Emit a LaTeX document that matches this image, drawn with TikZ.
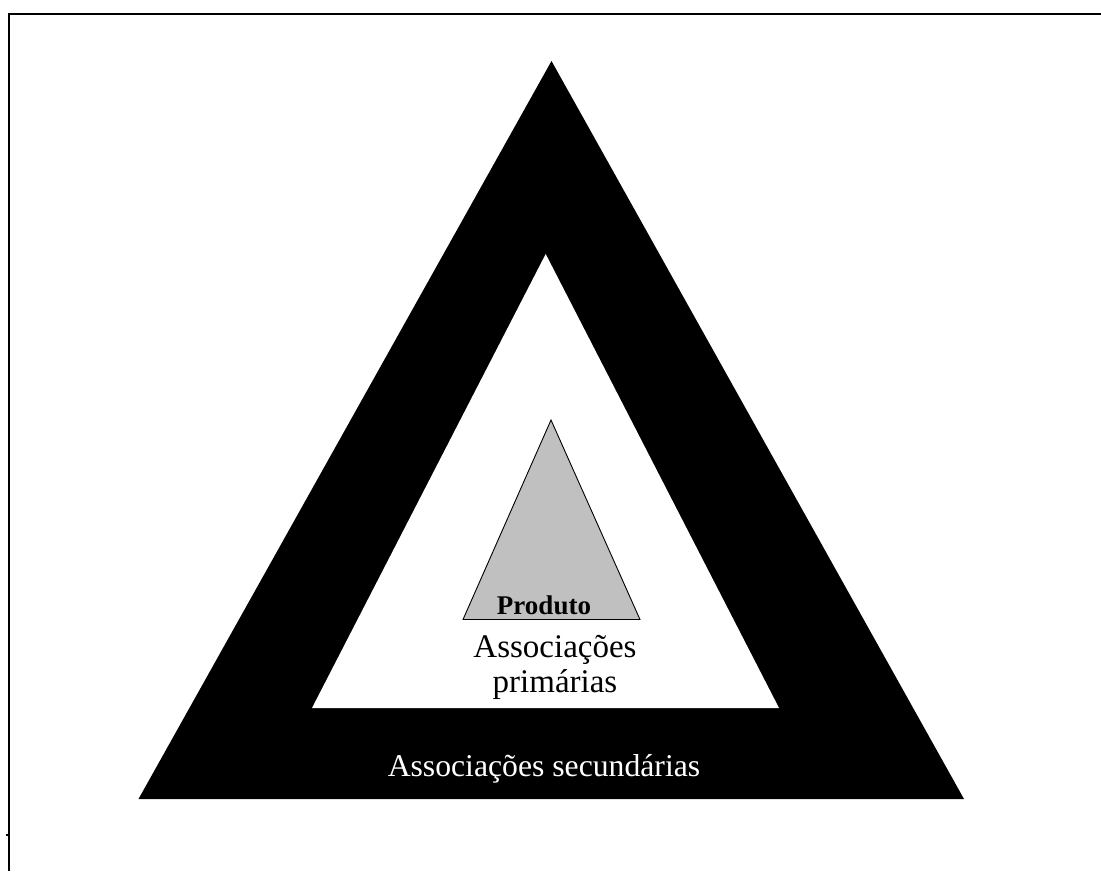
\documentclass[tikz,border=0pt]{standalone}
\usepackage{fontspec}
\setmainfont{Liberation Serif}
\begin{document}
\begin{tikzpicture}[x=1pt,y=-1pt,
  frame/.style={line width=2pt,black},
  grayfill/.style={fill={rgb,255:red,192;green,192;blue,192},draw=black,line width=0.9pt,line join=miter},
  lbl/.style={inner sep=0pt,align=center}]
\useasboundingbox (0,0) rectangle (1101,871);
\fill[white] (0,0) rectangle (1101,871);
% frame lines
\coordinate (tl) at (9,14);
\coordinate (tr) at (1101,14);
\coordinate (bl) at (9,871);
\draw[frame] (tr) -- (tl) -- (bl);
\coordinate (tk1) at (5.5,835);
\coordinate (tk2) at (9,835);
\draw[line width=2.5pt] (tk1) -- (tk2);
% outer black triangle with inner white triangle
\fill[black] (551.5,61) -- (964,799) -- (138.5,799) -- cycle;
\fill[white] (545.7,254) -- (779,708) -- (312,708) -- cycle;
% gray product triangle
\draw[grayfill] (551,420) -- (640,619.5) -- (463,619.5) -- cycle;
% texts
\node[lbl,font=\fontsize{27}{28}\selectfont\bfseries,anchor=base] (prod) at (544,614) {Produto};
\node[lbl,font=\fontsize{33}{32}\selectfont,anchor=base] (prim1) at (555,657) {Associações};
\node[lbl,font=\fontsize{33}{32}\selectfont,anchor=base] (prim2) at (555,692) {primárias};
\node[lbl,font=\fontsize{31.7}{34}\selectfont,anchor=base,text=white] (sec) at (544,776) {Associações secundárias};
\end{tikzpicture}
\end{document}
